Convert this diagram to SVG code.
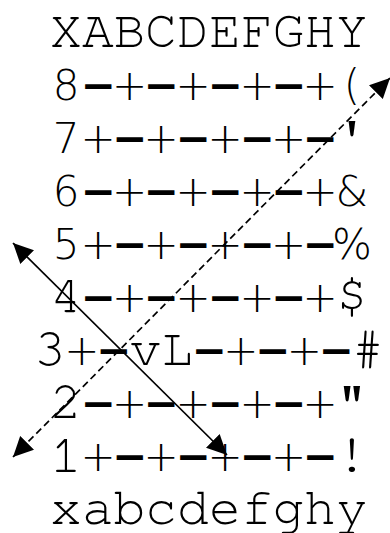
<svg xmlns="http://www.w3.org/2000/svg" width="390" height="533" viewBox="0 0 390 533">
<style>
text{fill:#000;text-anchor:middle}
.m{font-family:"Nimbus Mono PS","Nimbus Mono L","FreeMono","Courier New","Liberation Mono",monospace;font-size:53px}
.s{font-family:"DejaVu Sans","Noto Sans",sans-serif;font-size:42px;font-weight:200}
.d{font-family:"DejaVu Sans","Noto Sans",sans-serif;font-size:42px;font-weight:bold}
.ln{fill:none;stroke:#000;stroke-width:1.7}
.dash{stroke-dasharray:7,4}
</style>
<defs>
<marker id="ah" markerUnits="userSpaceOnUse" markerWidth="22" markerHeight="20" refX="20" refY="9.75" orient="auto-start-reverse" viewBox="0 0 22 20">
<path d="M0,0 L20,9.75 L0,19.5 z" fill="#000"/>
</marker>
</defs>
<rect width="390" height="533" fill="#fff"/>
<g id="header"><text class="m" x="66 98 129.5 161 193 225 257 288.5 320 352" y="47">XABCDEFGHY</text></g>
<g id="rank8">
<text class="s" x="66" y="100">8</text>
<text class="d" x="98 161 225 288.5" y="100">−−−−</text>
<text class="s" x="129.5 193 257 320" y="100">++++</text>
<text class="s" x="352" y="100">(</text>
</g>
<g id="rank7">
<text class="s" x="66" y="153">7</text>
<text class="s" x="98 161 225 288.5" y="153">++++</text>
<text class="d" x="129.5 193 257 320" y="153">−−−−</text>
<text class="m" x="352" y="153">'</text>
</g>
<g id="rank6">
<text class="s" x="66" y="206">6</text>
<text class="d" x="98 161 225 288.5" y="206">−−−−</text>
<text class="s" x="129.5 193 257 320" y="206">++++</text>
<text class="s" x="352" y="206">&amp;</text>
</g>
<g id="rank5">
<text class="s" x="66" y="259">5</text>
<text class="s" x="98 161 225 288.5" y="259">++++</text>
<text class="d" x="129.5 193 257 320" y="259">−−−−</text>
<text class="s" x="352" y="259">%</text>
</g>
<g id="rank4">
<text class="m" x="66" y="312">4</text>
<text class="d" x="98 161 225 288.5" y="312">−−−−</text>
<text class="s" x="129.5 193 257 320" y="312">++++</text>
<text class="m" x="352" y="312">$</text>
</g>
<g id="rank3">
<text class="m" x="50" y="365">3</text>
<text class="s" x="81.8 240.8 304.4" y="365">+++</text>
<text class="d" x="113.6 209 272.6 336.2" y="365">−−−−</text>
<text class="m" x="145.4 177.2" y="365">vL</text>
<text class="m" x="368" y="365">#</text>
</g>
<g id="rank2">
<text class="m" x="66" y="418">2</text>
<text class="d" x="98 161 225 288.5" y="418">−−−−</text>
<text class="s" x="129.5 193 257 320" y="418">++++</text>
<text class="m" x="352" y="418">"</text>
</g>
<g id="rank1">
<text class="m" x="66" y="471">1</text>
<text class="s" x="98 161 225 288.5" y="471">++++</text>
<text class="d" x="129.5 193 257 320" y="471">−−−−</text>
<text class="m" x="352" y="471">!</text>
</g>
<g id="footer"><text class="m" x="66 98 129.5 161 193 225 257 288.5 320 352" y="524">xabcdefghy</text></g>
<g id="connectors">
<path class="ln" d="M13,243 L227,455" marker-start="url(#ah)" marker-end="url(#ah)"/>
<path class="ln dash" d="M13,457 L390,78" marker-start="url(#ah)" marker-end="url(#ah)"/>
</g>
</svg>
